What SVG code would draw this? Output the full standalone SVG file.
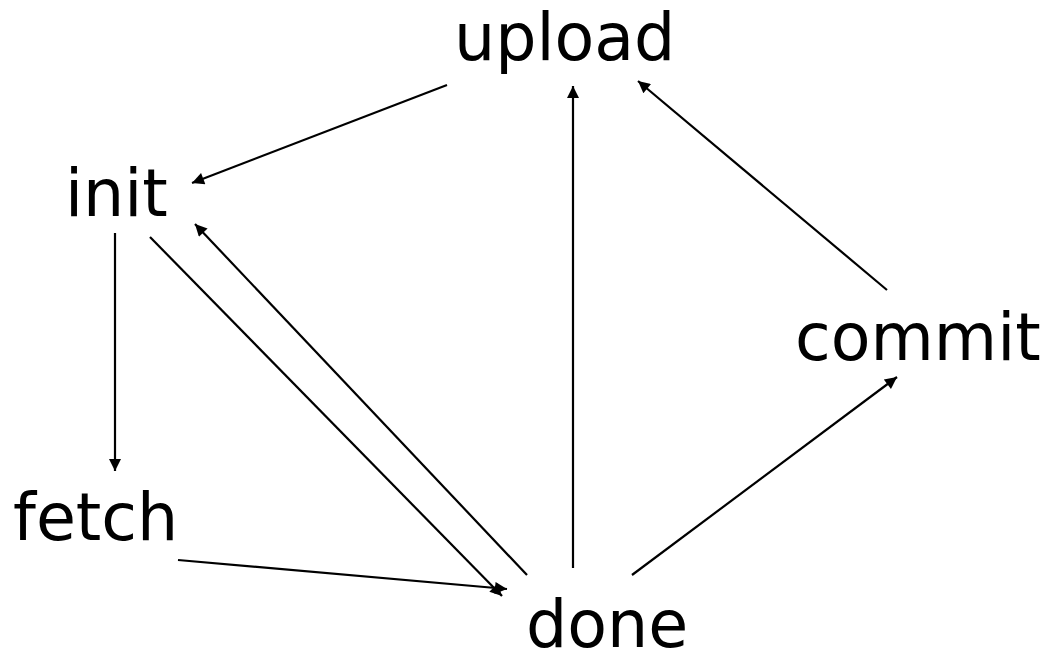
<svg xmlns="http://www.w3.org/2000/svg" width="1055" height="655" viewBox="0 0 1055 655">
<style>
.lbl{font-family:"DejaVu Sans",sans-serif;font-size:65px;fill:#000}
.e{stroke:#000;stroke-width:2.2;fill:none;marker-end:url(#ah)}
</style>
<defs>
<marker id="ah" viewBox="0 0 10 10" refX="10" refY="5" markerWidth="24" markerHeight="12" markerUnits="userSpaceOnUse" orient="auto">
<path d="M0,0 L10,5 L0,10 z" fill="#000"/>
</marker>
</defs>
<rect width="1055" height="655" fill="#fff"/>
<g id="edges">
<line class="e" x1="447" y1="85" x2="192" y2="183"/>
<line class="e" x1="115" y1="233" x2="115" y2="471"/>
<line class="e" x1="150" y1="237" x2="502" y2="596"/>
<line class="e" x1="527" y1="575" x2="195" y2="224"/>
<line class="e" x1="573" y1="568" x2="573" y2="86"/>
<line class="e" x1="632" y1="575" x2="897" y2="377"/>
<line class="e" x1="887" y1="290" x2="638" y2="81"/>
<line class="e" x1="178" y1="560" x2="507" y2="589"/>
</g>
<g id="upload"><text class="lbl" x="454" y="60">upload</text></g>
<g id="init"><text class="lbl" x="65" y="216">init</text></g>
<g id="fetch"><text class="lbl" x="13" y="540">fetch</text></g>
<g id="done"><text class="lbl" x="526" y="647">done</text></g>
<g id="commit"><text class="lbl" x="795" y="360">commit</text></g>
</svg>
